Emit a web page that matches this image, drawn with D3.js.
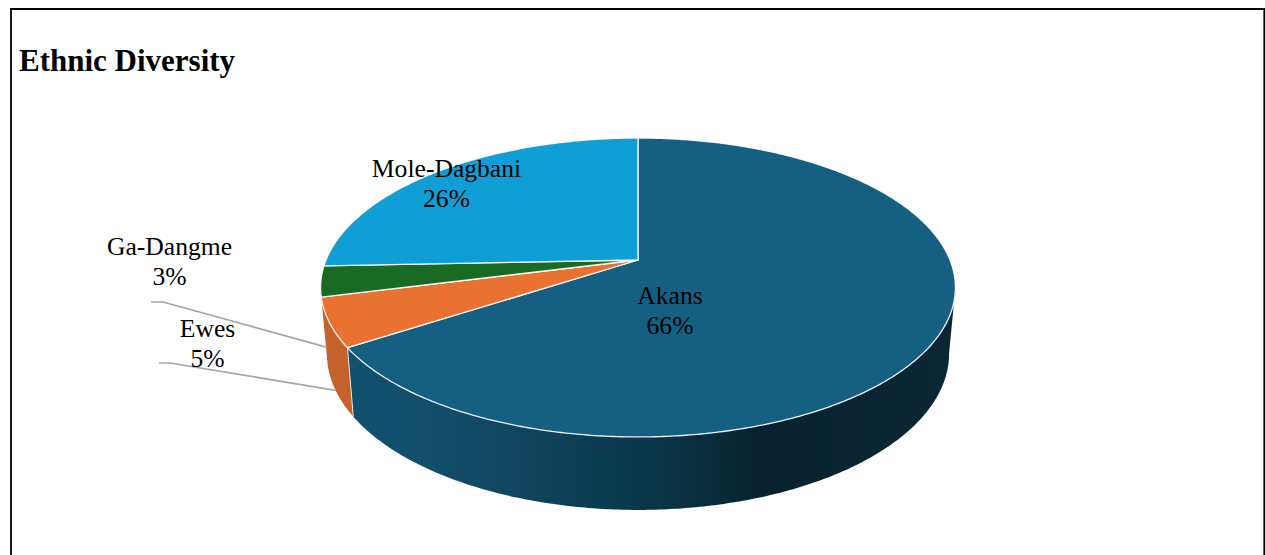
<!DOCTYPE html>
<html>
<head>
<meta charset="utf-8">
<script src="https://cdn.jsdelivr.net/npm/d3@7"></script>
<style>
html,body{margin:0;padding:0;background:#fff;overflow:hidden}
svg{display:block}
text{font-family:"Liberation Serif",serif;fill:#000}
</style>
</head>
<body>
<svg id="c" width="1265" height="555"></svg>
<script>
const titleText = "Ethnic Diversity";
const categories = ["Akans", "Ewes", "Ga-Dangme", "Mole-Dagbani"];
const shares = [65.8, 5.25, 3.3, 25.65];
const topColors = ["#156082", "#E97132", "#196B24", "#0F9ED5"];
const sideColors = ["url(#akansSide)", "#C4622B", "#C4622B", "#0C7AA5"];

const W = 1265, H = 555;
const svg = d3.select("#c");

// Perspective projection of the pie disc
const apex = {x: 638, y: 260};
const persp = {k: -0.184, a: 144.4, c: 312};
const base = {sx: 0.98, sy: 1.045, d: 65};
function project(angle, lower) {
  const u = Math.sin(angle), v = -Math.cos(angle);
  const w = 1 + persp.k * v;
  let X = persp.c * u / w, Y = persp.a * v / w;
  if (lower) { X *= base.sx; Y = Y * base.sy + base.d; }
  return [apex.x + X, apex.y + Y];
}
const pie = d3.pie().sort(null).value(d => d)(shares);
const line = d3.line();
const samples = (a0, a1) => {
  const n = Math.max(4, Math.ceil((a1 - a0) / 0.01));
  return d3.range(n + 1).map(i => a0 + (a1 - a0) * i / n);
};
// Angle where the rim reaches its right-hand silhouette
const silhouette = Math.acos(persp.k);

// Side gradient
const defs = svg.append("defs");
const grad = defs.append("linearGradient").attr("id", "akansSide")
  .attr("gradientUnits", "userSpaceOnUse")
  .attr("x1", 350).attr("x2", 955).attr("y1", 0).attr("y2", 0);
[[0, "#11516E"], [0.13, "#124F6B"], [0.48, "#0B374B"], [0.68, "#08232F"], [1, "#0A2733"]]
  .forEach(([o, col]) => grad.append("stop").attr("offset", o).attr("stop-color", col));

// Frame
svg.append("path").attr("d", `M11,${H}V9H1264.3V${H}`)
  .attr("fill", "none").attr("stroke", "#000").attr("stroke-width", 1.8);

// Title
svg.append("text").attr("x", 19).attr("y", 71)
  .attr("font-size", 31).attr("font-weight", "bold").text(titleText);

// Side walls
const sideIdx = [1, 0];
svg.append("g").selectAll("path").data(sideIdx).join("path")
  .attr("d", i => {
    const s = pie[i], as = samples(i === 0 ? silhouette : s.startAngle, s.endAngle);
    const pts = as.map(a => project(a, false)).concat(as.slice().reverse().map(a => project(a, true)));
    return line(pts) + "Z";
  })
  .attr("fill", i => sideColors[i]);
// Seam between the two visible walls
svg.append("path")
  .attr("d", line([project(pie[0].endAngle, false), project(pie[0].endAngle, true)]))
  .attr("stroke", "#e6e6e6").attr("stroke-width", 1).attr("fill", "none");

// Top faces
svg.append("g").selectAll("path").data(pie).join("path")
  .attr("d", s => line([[apex.x, apex.y]].concat(samples(s.startAngle, s.endAngle).map(a => project(a, false)))) + "Z")
  .attr("fill", (s, i) => topColors[i])
  .attr("stroke", "#fff").attr("stroke-opacity", 0.9).attr("stroke-width", 1.3).attr("stroke-linejoin", "round");

// Leader lines: from the lower rim of the slice to a label elbow
const leaders = [
  {i: 1, elbow: [170, 363], tail: 11},
  {i: 2, elbow: [163, 302], tail: 12}
];
svg.append("g").selectAll("path").data(leaders).join("path")
  .attr("d", l => {
    const s = pie[l.i];
    return line([project((s.startAngle + s.endAngle) / 2, true), l.elbow, [l.elbow[0] - l.tail, l.elbow[1]]]);
  })
  .attr("fill", "none").attr("stroke", "#A6A6A6").attr("stroke-width", 1.7);

// Labels
const labelAnchors = [[670, 304], [207.5, 337], [169.5, 255], [446.5, 177]];
const fmt = d3.format(".0%");
const labels = svg.append("g").selectAll("text").data(pie).join("text")
  .attr("text-anchor", "middle").attr("font-size", 25.6);
labels.append("tspan").attr("x", (s, i) => labelAnchors[i][0]).attr("y", (s, i) => labelAnchors[i][1])
  .text((s, i) => categories[i]);
labels.append("tspan").attr("x", (s, i) => labelAnchors[i][0]).attr("y", (s, i) => labelAnchors[i][1] + 30)
  .text(s => fmt(s.value / 100));
</script>
</body>
</html>
